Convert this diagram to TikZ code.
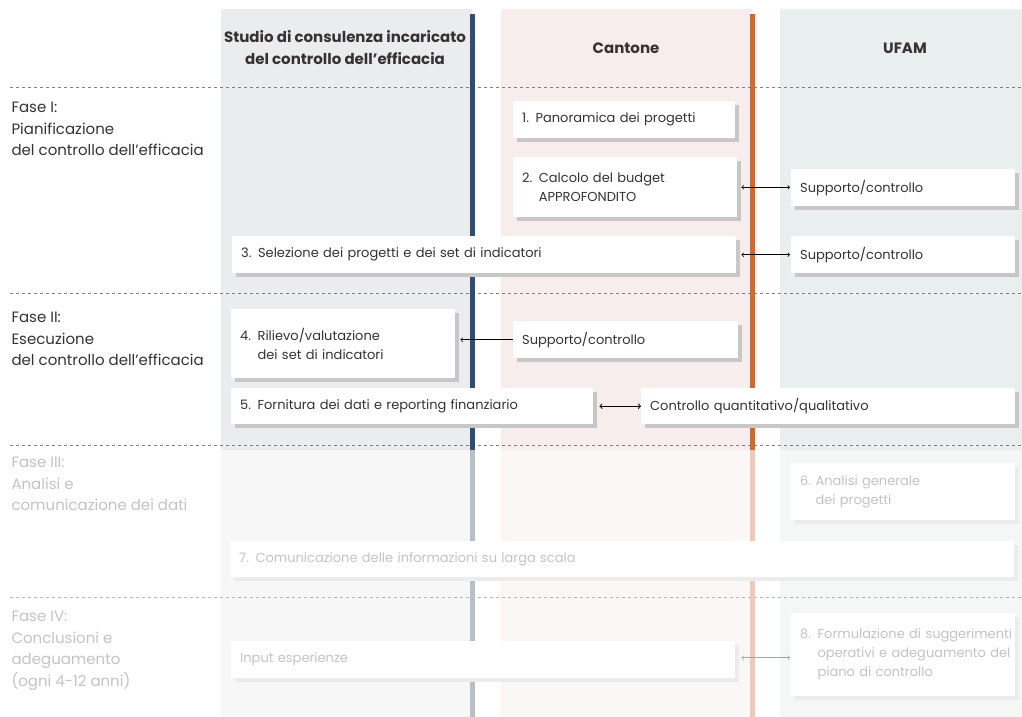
\documentclass[tikz,border=0pt]{standalone}
\usepackage{fontspec}
\setmainfont{Poppins}
\usetikzlibrary{shadows}

\definecolor{txt}{RGB}{55,50,50}
\definecolor{ftxt}{RGB}{195,195,195}
\definecolor{shd}{RGB}{200,198,198}
\definecolor{fshd}{RGB}{236,236,236}
\definecolor{graybg}{RGB}{235,236,238}
\definecolor{pinkbg}{RGB}{246,237,236}
\definecolor{tealbg}{RGB}{233,238,238}
\definecolor{fgraybg}{RGB}{247,247,247}
\definecolor{fpinkbg}{RGB}{250,247,246}
\definecolor{ftealbg}{RGB}{245,247,247}
\definecolor{bluel}{RGB}{50,78,110}
\definecolor{fbluel}{RGB}{185,190,200}
\definecolor{orangel}{RGB}{201,106,61}
\definecolor{forangel}{RGB}{236,200,190}

\begin{document}
\begin{tikzpicture}[x=1pt,y=-1pt,
  card/.style={fill=white, anchor=north west, align=left, inner xsep=9pt, inner ysep=0pt,
    font=\fontsize{13}{19}\selectfont},
  box/.style={card, text=txt, general shadow={fill=shd, shadow xshift=4pt, shadow yshift=-4pt}},
  dimbox/.style={card, text=ftxt, general shadow={fill=fshd, shadow xshift=4pt, shadow yshift=-4pt}},
  head/.style={text=txt, align=center, font=\bfseries\fontsize{15}{22}\selectfont},
  phase/.style={anchor=north west, align=left, font=\fontsize{15}{21.5}\selectfont},
  link/.style={<->, line width=0.7pt}]
\useasboundingbox (0,0) rectangle (1022,717);

% columns
\fill[graybg] (221,9) rectangle (472,450);
\fill[pinkbg] (501,9) rectangle (752,450);
\fill[tealbg] (780,9) rectangle (1022,450);
\fill[fgraybg] (221,450) rectangle (472,717);
\fill[fpinkbg] (501,450) rectangle (752,717);
\fill[ftealbg] (780,450) rectangle (1022,717);

% phases
\foreach \y in {87,293,445}{
  \draw[gray, dashed, line width=0.6pt] (10,\y) -- (1022,\y);
}
\draw[gray!60, dashed, line width=0.6pt] (10,597) -- (1022,597);

\draw[bluel, line width=5pt] (472.5,14) -- (472.5,450);
\draw[fbluel, line width=5pt] (472.5,450) -- (472.5,717);
\draw[orangel, line width=5pt] (752.5,14) -- (752.5,450);
\draw[forangel, line width=5pt] (752.5,450) -- (752.5,717);

\node[head] (hstudio) at (345,48) {Studio di consulenza incaricato\\del controllo dell’efficacia};
\node[head] (hcant) at (626,48) {Cantone};
\node[head] (hufam) at (905,48) {UFAM};

\node[phase, text=txt] (f1) at (8,99) {Fase I:\\Pianificazione\\del controllo dell’efficacia};
\node[phase, text=txt] (f2) at (8,309) {Fase II:\\Esecuzione\\del controllo dell’efficacia};
\node[phase, text=ftxt] (f3) at (8,454) {Fase III:\\Analisi e\\comunicazione dei dati};
\node[phase, text=ftxt] (f4) at (8,608) {Fase IV:\\Conclusioni e\\adeguamento\\(ogni 4-12 anni)};

% steps
\node[box, text width=204pt, minimum height=37pt] (b1) at (513,101) {1. Panoramica dei progetti};
\node[box, text width=206pt, minimum height=60pt] (b2) at (513,157) {2. Calcolo del budget\\\hphantom{2. }APPROFONDITO};
\node[box, text width=206pt, minimum height=37pt] (s1) at (791,169) {Supporto/controllo};
\node[box, text width=486pt, minimum height=37pt] (b3) at (232,236) {3. Selezione dei progetti e dei set di indicatori};
\node[box, text width=206pt, minimum height=37pt] (s2) at (791,236) {Supporto/controllo};
\node[box, text width=206pt, minimum height=69pt] (b4) at (231,309) {4. Rilievo/valutazione\\\hphantom{4. }dei set di indicatori};
\node[box, text width=207pt, minimum height=37pt] (s3) at (513,321) {Supporto/controllo};
\node[box, text width=344pt, minimum height=36pt] (b5) at (231,388) {5. Fornitura dei dati e reporting finanziario};
\node[box, text width=356pt, minimum height=36pt] (c5) at (641,388) {Controllo quantitativo/qualitativo};
\node[dimbox, text width=206pt, minimum height=57pt] (b6) at (791,463) {6.\ Analisi generale\\\hphantom{6.\ }dei progetti};
\node[dimbox, text width=766pt, minimum height=36pt] (b7) at (230,541) {7. Comunicazione delle informazioni su larga scala};
\node[dimbox, text width=486pt, minimum height=37pt] (b8) at (231,641) {Input esperienze};
\node[dimbox, text width=206pt, minimum height=83pt] (b9) at (791,613)
  {\mbox{8. Formulazione di suggerimenti}\\\mbox{\hphantom{8. }operativi e adeguamento del}\\\hphantom{8. }piano di controllo};

% links
\draw[link, shorten <=4pt, shorten >=1pt] (b2.east) -- (b2.east -| s1.west);
\draw[link, shorten <=5pt, shorten >=1pt] (b3.east) -- (b3.east -| s2.west);
\draw[->, line width=0.7pt, shorten >=5pt] (s3.west) -- (s3.west -| b4.east);
\draw[link, line width=1pt, shorten <=6pt] (b5.east) -- (c5.west);
\draw[link, gray!70, shorten <=6pt, shorten >=1pt] ([yshift=2pt]b8.east) -- ([yshift=2pt]b8.east -| b9.west);
\end{tikzpicture}
\end{document}
